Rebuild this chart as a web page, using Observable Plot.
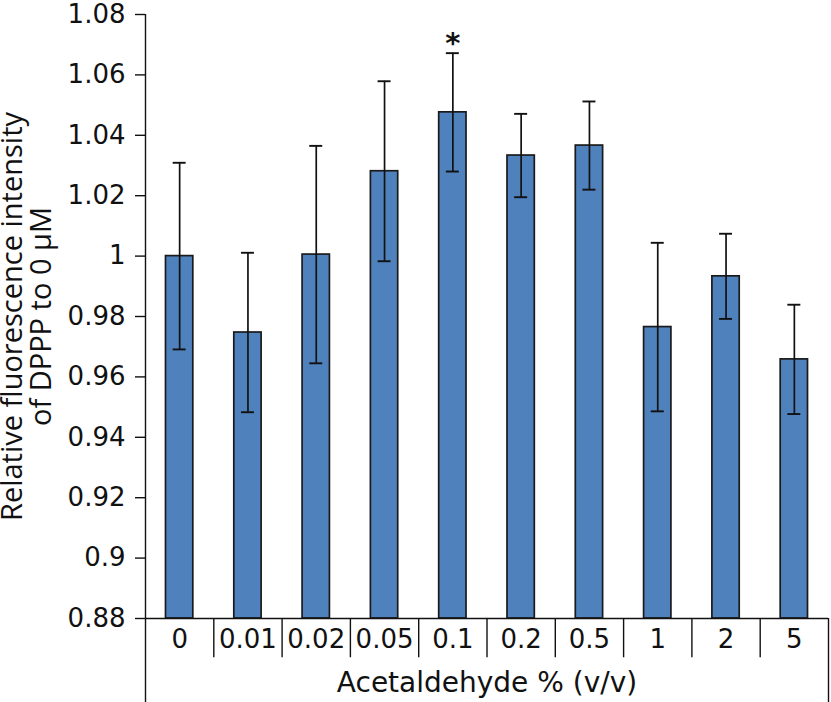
<!DOCTYPE html>
<html>
<head>
<meta charset="utf-8">
<script src="https://cdn.jsdelivr.net/npm/d3@7"></script>
<script src="https://cdn.jsdelivr.net/npm/@observablehq/plot@0.6"></script>
<style>
  html, body { margin: 0; padding: 0; background: #fff; }
  #chart svg { display: block; }
</style>
</head>
<body>
<div id="chart"></div>
<script>
const categories = ["0", "0.01", "0.02", "0.05", "0.1", "0.2", "0.5", "1", "2", "5"];
const means = [1.000, 0.9747, 1.0005, 1.0281, 1.0476, 1.0333, 1.0366, 0.9765, 0.9933, 0.9658];
const errors = [0.0309, 0.0264, 0.0360, 0.0298, 0.0196, 0.0138, 0.0146, 0.0279, 0.0141, 0.0181];
const significant = ["", "", "", "", "*", "", "", "", "", ""];
const yTicks = [0.88, 0.90, 0.92, 0.94, 0.96, 0.98, 1.00, 1.02, 1.04, 1.06, 1.08];
const yLabel = "Relative fluorescence intensity\nof DPPP to 0 μM";
const xLabel = "Acetaldehyde % (v/v)";

const data = categories.map((c, i) => ({i, c, v: means[i], e: errors[i], s: significant[i]}));

const yMin = 0.88, yMax = 1.08;
const sepFloor = 0.867;   // bottom of category separators (below axis)
const frameFloor = 0.852; // bottom of the outer frame lines
const n = categories.length;

const font = "DejaVu Sans, Verdana, sans-serif";

const chart = Plot.plot({
  width: 831,
  height: 702,
  marginTop: 14,
  marginBottom: 84,
  marginLeft: 145,
  marginRight: 3,
  style: {fontFamily: font, fontSize: "26px", color: "#111", background: "#fff"},
  x: {domain: [0, n], axis: null},
  y: {domain: [yMin, yMax], axis: null},
  marks: [
    // bars
    Plot.rectY(data, {
      x1: d => d.i + 0.3, x2: d => d.i + 0.7, y1: yMin, y2: "v",
      fill: "#4F81BD", stroke: "#1a1a1a", strokeWidth: 1.7
    }),
    // error bars
    Plot.ruleX(data, {x: d => d.i + 0.5, y1: d => d.v - d.e, y2: d => d.v + d.e, stroke: "#111", strokeWidth: 1.7}),
    Plot.ruleY(data, {y: d => d.v + d.e, x1: d => d.i + 0.405, x2: d => d.i + 0.595, stroke: "#111", strokeWidth: 1.9}),
    Plot.ruleY(data, {y: d => d.v - d.e, x1: d => d.i + 0.405, x2: d => d.i + 0.595, stroke: "#111", strokeWidth: 1.9}),
    // significance marker
    Plot.text(data.filter(d => d.s), {x: d => d.i + 0.5, y: d => d.v + d.e, text: "s", dy: -9, fontSize: 29, fontWeight: "bold", fill: "#111"}),
    // axis frame lines
    Plot.ruleY([yMin], {x1: 0, x2: n, stroke: "#111", strokeWidth: 1.4}),
    Plot.ruleX([0], {y1: frameFloor, y2: yMax, stroke: "#111", strokeWidth: 1.4}),
    Plot.ruleX([n], {y1: frameFloor, y2: yMin, stroke: "#111", strokeWidth: 1.4}),
    // category separators
    Plot.ruleX(d3.range(1, n), {x: d => d, y1: sepFloor, y2: yMin, stroke: "#111", strokeWidth: 1.4}),
    // category labels
    Plot.text(data, {x: d => d.i + 0.5, y: yMin, text: "c", dy: 21, fontSize: 26, fill: "#111"}),
    // x title
    Plot.text([xLabel], {x: n / 2, y: yMin, text: d => d, dy: 65, fontSize: 28, fill: "#111"}),
    // y title
    Plot.text([yLabel], {
      frameAnchor: "left", textAnchor: "middle", lineAnchor: "middle",
      text: d => d, rotate: -90, dx: -118, dy: 0,
      fontSize: 29, lineHeight: 0.97, fontFamily: "Open Sans, sans-serif", fill: "#111"
    }),
    // y axis
    Plot.axisY({ticks: yTicks, tickFormat: d => String(+d.toFixed(2)), tickSize: 10, tickPadding: 10, stroke: "#111", strokeWidth: 1.4, fontSize: 26, label: null})
  ]
});

document.getElementById("chart").appendChild(chart);
</script>
</body>
</html>
